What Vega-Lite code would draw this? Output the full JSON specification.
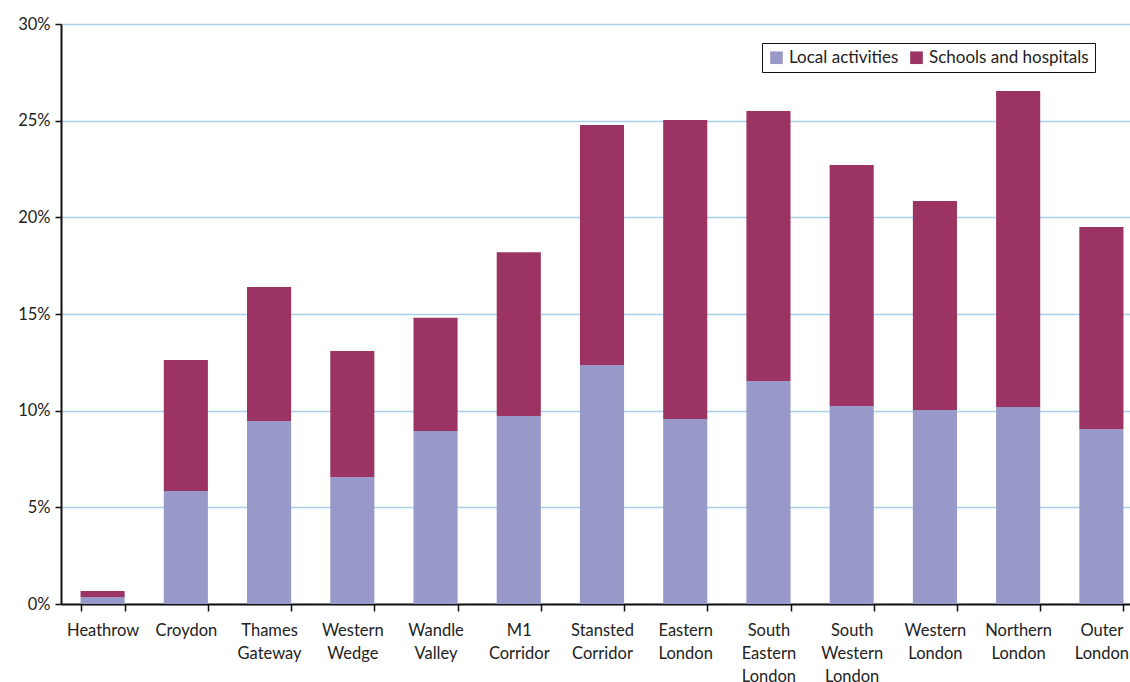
{
  "$schema": "https://vega.github.io/schema/vega-lite/v6.json",
  "width": 1082,
  "height": 580,
  "autosize": {"type": "none"},
  "padding": {"left": 61, "top": 24, "right": 0, "bottom": 78},
  "background": "white",
  "config": {
    "font": "Lato",
    "view": {"stroke": null}
  },
  "data": {
    "values": [
      {"region": "Heathrow", "series": "Local activities", "value": 0.0036},
      {"region": "Heathrow", "series": "Schools and hospitals", "value": 0.0031},
      {"region": "Croydon", "series": "Local activities", "value": 0.0585},
      {"region": "Croydon", "series": "Schools and hospitals", "value": 0.0677},
      {"region": "Thames Gateway", "series": "Local activities", "value": 0.0947},
      {"region": "Thames Gateway", "series": "Schools and hospitals", "value": 0.0693},
      {"region": "Western Wedge", "series": "Local activities", "value": 0.0657},
      {"region": "Western Wedge", "series": "Schools and hospitals", "value": 0.0652},
      {"region": "Wandle Valley", "series": "Local activities", "value": 0.0895},
      {"region": "Wandle Valley", "series": "Schools and hospitals", "value": 0.0585},
      {"region": "M1 Corridor", "series": "Local activities", "value": 0.0973},
      {"region": "M1 Corridor", "series": "Schools and hospitals", "value": 0.0847},
      {"region": "Stansted Corridor", "series": "Local activities", "value": 0.1236},
      {"region": "Stansted Corridor", "series": "Schools and hospitals", "value": 0.1242},
      {"region": "Eastern London", "series": "Local activities", "value": 0.0957},
      {"region": "Eastern London", "series": "Schools and hospitals", "value": 0.1547},
      {"region": "South Eastern London", "series": "Local activities", "value": 0.1154},
      {"region": "South Eastern London", "series": "Schools and hospitals", "value": 0.1396},
      {"region": "South Western London", "series": "Local activities", "value": 0.1024},
      {"region": "South Western London", "series": "Schools and hospitals", "value": 0.1247},
      {"region": "Western London", "series": "Local activities", "value": 0.1004},
      {"region": "Western London", "series": "Schools and hospitals", "value": 0.1081},
      {"region": "Northern London", "series": "Local activities", "value": 0.1019},
      {"region": "Northern London", "series": "Schools and hospitals", "value": 0.1635},
      {"region": "Outer London", "series": "Local activities", "value": 0.0905},
      {"region": "Outer London", "series": "Schools and hospitals", "value": 0.1045}
    ]
  },
  "mark": {"type": "bar"},
  "encoding": {
    "x": {
      "field": "region",
      "type": "nominal",
      "sort": null,
      "scale": {"paddingInner": 0.47, "paddingOuter": 0.235},
      "axis": {
        "title": null,
        "labelAngle": 0,
        "labelExpr": "split(datum.label, ' ')",
        "labelFontSize": 16.5,
        "labelColor": "#222222",
        "labelLineHeight": 23,
        "labelPadding": 11,
        "tickBand": "extent",
        "tickSize": 7,
        "tickColor": "#111111",
        "tickWidth": 1.5,
        "domainColor": "#111111",
        "domainWidth": 2,
        "grid": false
      }
    },
    "y": {
      "field": "value",
      "type": "quantitative",
      "aggregate": "sum",
      "stack": "zero",
      "scale": {"domain": [0, 0.3], "nice": false},
      "axis": {
        "title": null,
        "format": ".0%",
        "values": [0, 0.05, 0.1, 0.15, 0.2, 0.25, 0.3],
        "labelFontSize": 16.5,
        "labelColor": "#222222",
        "labelPadding": 5,
        "tickSize": 6,
        "tickColor": "#111111",
        "tickWidth": 1.5,
        "domainColor": "#111111",
        "domainWidth": 2,
        "grid": true,
        "gridColor": "#a9d0ea",
        "gridWidth": 1.5
      }
    },
    "color": {
      "field": "series",
      "type": "nominal",
      "scale": {
        "domain": ["Local activities", "Schools and hospitals"],
        "range": ["#9898c9", "#9b3462"]
      },
      "legend": {
        "title": null,
        "orient": "none",
        "direction": "horizontal",
        "legendX": 701,
        "legendY": 19,
        "symbolType": "square",
        "symbolSize": 160,
        "symbolStrokeWidth": 0,
        "labelFontSize": 17,
        "labelColor": "#222222",
        "labelOffset": 4,
        "columnPadding": 9,
        "padding": 6,
        "strokeColor": "#111111",
        "fillColor": "white"
      }
    },
    "order": {"field": "series", "sort": "ascending"}
  }
}
